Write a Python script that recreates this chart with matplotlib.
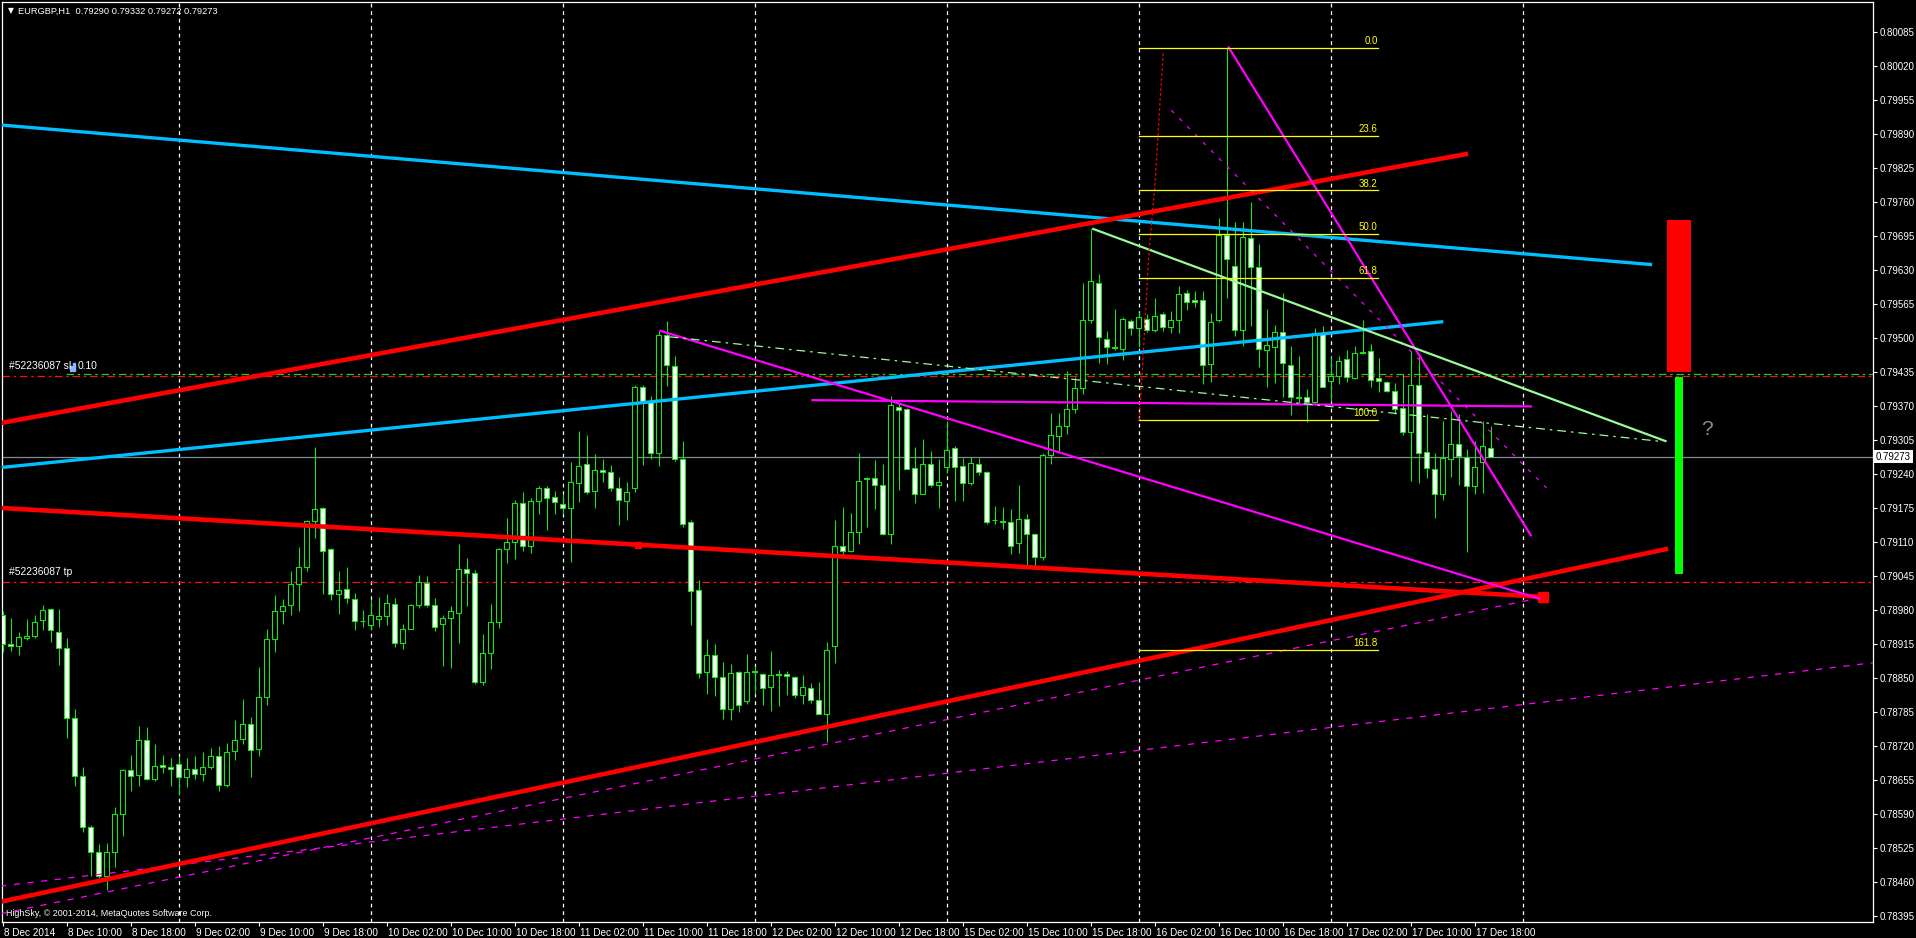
import matplotlib
matplotlib.use('Agg')
import matplotlib.pyplot as plt
import matplotlib.transforms as mtrans
from matplotlib.patches import Rectangle

W, H = 1916, 938
plt.rcParams['font.family'] = ['Liberation Sans', 'DejaVu Sans']

# ── 1. EURGBP H1 candles (8 Dec 02:00 ... 17 Dec 20:00) ────────────────────
opens = [0.78971, 0.78914, 0.78912, 0.78926, 0.78930, 0.78960, 0.78982, 0.78938, 0.78907, 0.78774,
         0.78662, 0.78565, 0.78518, 0.78471, 0.78518, 0.78590, 0.78674, 0.78664, 0.78732, 0.78657,
         0.78683, 0.78679, 0.78685, 0.78661, 0.78676, 0.78667, 0.78679, 0.78700, 0.78646, 0.78710,
         0.78734, 0.78762, 0.78715, 0.78814, 0.78925, 0.78978, 0.78990, 0.79029, 0.79062, 0.79150,
         0.79175, 0.79096, 0.79010, 0.79020, 0.79001, 0.78958, 0.78952, 0.78963, 0.78968, 0.78992,
         0.78917, 0.78943, 0.78990, 0.79032, 0.78990, 0.78954, 0.78965, 0.78975, 0.79059, 0.79050,
         0.78842, 0.78897, 0.78956, 0.79097, 0.79109, 0.79185, 0.79103, 0.79189, 0.79214, 0.79195,
         0.79182, 0.79174, 0.79222, 0.79258, 0.79208, 0.79248, 0.79243, 0.79214, 0.79189, 0.79214,
         0.79407, 0.79378, 0.79279, 0.79505, 0.79447, 0.79268, 0.79149, 0.79019, 0.78862, 0.78893,
         0.78852, 0.78790, 0.78862, 0.78805, 0.78862, 0.78858, 0.78832, 0.78856, 0.78858, 0.78852,
         0.78817, 0.78830, 0.78807, 0.78782, 0.78912, 0.79103, 0.79092, 0.79128, 0.79231, 0.79233,
         0.79219, 0.79125, 0.79368, 0.79365, 0.79252, 0.79202, 0.79258, 0.79219, 0.79254, 0.79290,
         0.79256, 0.79223, 0.79258, 0.79244, 0.79151, 0.79148, 0.79149, 0.79108, 0.79154, 0.79126,
         0.79082, 0.79276, 0.79313, 0.79332, 0.79365, 0.79404, 0.79535, 0.79605, 0.79498, 0.79483,
         0.79479, 0.79533, 0.79519, 0.79537, 0.79515, 0.79546, 0.79521, 0.79534, 0.79585, 0.79573,
         0.79573, 0.79450, 0.79534, 0.79696, 0.79637, 0.79515, 0.79691, 0.79635, 0.79476, 0.79482,
         0.79512, 0.79449, 0.79385, 0.79387, 0.79377, 0.79510, 0.79418, 0.79428, 0.79459, 0.79423,
         0.79471, 0.79474, 0.79423, 0.79416, 0.79398, 0.79366, 0.79321, 0.79409, 0.79281, 0.79250,
         0.79202, 0.79269, 0.79298, 0.79273, 0.79216, 0.79262, 0.79290]
highs = [0.78977, 0.78964, 0.78938, 0.78962, 0.78971, 0.78990, 0.78983, 0.78982, 0.78926, 0.78790,
         0.78680, 0.78568, 0.78532, 0.78535, 0.78604, 0.78675, 0.78702, 0.78759, 0.78757, 0.78723,
         0.78702, 0.78697, 0.78700, 0.78697, 0.78700, 0.78708, 0.78716, 0.78719, 0.78725, 0.78770,
         0.78809, 0.78776, 0.78871, 0.78943, 0.79008, 0.79000, 0.79054, 0.79101, 0.79151, 0.79292,
         0.79176, 0.79099, 0.79054, 0.79062, 0.79013, 0.78980, 0.79000, 0.79004, 0.79011, 0.79002,
         0.78953, 0.78991, 0.79046, 0.79045, 0.79002, 0.78970, 0.78987, 0.79106, 0.79079, 0.79056,
         0.78934, 0.78992, 0.79099, 0.79155, 0.79190, 0.79205, 0.79193, 0.79217, 0.79217, 0.79207,
         0.79201, 0.79262, 0.79322, 0.79314, 0.79278, 0.79268, 0.79257, 0.79234, 0.79224, 0.79410,
         0.79410, 0.79389, 0.79514, 0.79532, 0.79465, 0.79303, 0.79152, 0.79037, 0.78924, 0.78915,
         0.78881, 0.78876, 0.78863, 0.78895, 0.78872, 0.78860, 0.78902, 0.78865, 0.78864, 0.78853,
         0.78855, 0.78840, 0.78843, 0.78919, 0.79151, 0.79177, 0.79166, 0.79279, 0.79234, 0.79266,
         0.79258, 0.79388, 0.79375, 0.79366, 0.79291, 0.79306, 0.79283, 0.79268, 0.79342, 0.79294,
         0.79271, 0.79273, 0.79271, 0.79246, 0.79179, 0.79176, 0.79173, 0.79218, 0.79163, 0.79127,
         0.79279, 0.79356, 0.79356, 0.79436, 0.79425, 0.79604, 0.79709, 0.79623, 0.79514, 0.79556,
         0.79539, 0.79537, 0.79549, 0.79546, 0.79577, 0.79549, 0.79551, 0.79600, 0.79592, 0.79590,
         0.79590, 0.79547, 0.79729, 0.80055, 0.79721, 0.79721, 0.79759, 0.79679, 0.79555, 0.79525,
         0.79585, 0.79484, 0.79465, 0.79402, 0.79519, 0.79523, 0.79465, 0.79466, 0.79476, 0.79484,
         0.79534, 0.79488, 0.79462, 0.79417, 0.79413, 0.79431, 0.79474, 0.79466, 0.79355, 0.79280,
         0.79341, 0.79361, 0.79355, 0.79288, 0.79303, 0.79342, 0.79332]
lows = [0.78899, 0.78901, 0.78894, 0.78923, 0.78927, 0.78941, 0.78918, 0.78875, 0.78736, 0.78644,
        0.78556, 0.78471, 0.78468, 0.78445, 0.78489, 0.78547, 0.78633, 0.78644, 0.78654, 0.78653,
        0.78669, 0.78644, 0.78626, 0.78641, 0.78657, 0.78653, 0.78675, 0.78633, 0.78641, 0.78693,
        0.78723, 0.78661, 0.78701, 0.78799, 0.78900, 0.78953, 0.78971, 0.78977, 0.79054, 0.79117,
        0.79010, 0.78999, 0.78973, 0.78993, 0.78941, 0.78948, 0.78941, 0.78948, 0.78951, 0.78909,
        0.78905, 0.78943, 0.78984, 0.78986, 0.78940, 0.78872, 0.78869, 0.78916, 0.78988, 0.78839,
        0.78836, 0.78867, 0.78946, 0.79070, 0.79077, 0.79093, 0.79089, 0.79164, 0.79132, 0.79163,
        0.79164, 0.79072, 0.79187, 0.79201, 0.79175, 0.79225, 0.79208, 0.79142, 0.79152, 0.79206,
        0.79257, 0.79268, 0.79255, 0.79408, 0.79265, 0.79139, 0.78952, 0.78850, 0.78820, 0.78816,
        0.78772, 0.78770, 0.78784, 0.78800, 0.78820, 0.78799, 0.78786, 0.78796, 0.78817, 0.78812,
        0.78801, 0.78802, 0.78781, 0.78728, 0.78879, 0.79085, 0.79090, 0.79106, 0.79139, 0.79173,
        0.79123, 0.79106, 0.79210, 0.79249, 0.79184, 0.79201, 0.79215, 0.79175, 0.79241, 0.79188,
        0.79188, 0.79218, 0.79238, 0.79144, 0.79144, 0.79134, 0.79086, 0.79088, 0.79065, 0.79063,
        0.79075, 0.79258, 0.79284, 0.79317, 0.79357, 0.79392, 0.79529, 0.79452, 0.79450, 0.79477,
        0.79457, 0.79505, 0.79482, 0.79512, 0.79512, 0.79513, 0.79510, 0.79510, 0.79554, 0.79559,
        0.79411, 0.79416, 0.79530, 0.79577, 0.79503, 0.79484, 0.79522, 0.79445, 0.79406, 0.79413,
        0.79387, 0.79353, 0.79375, 0.79339, 0.79376, 0.79406, 0.79380, 0.79411, 0.79416, 0.79422,
        0.79469, 0.79406, 0.79396, 0.79397, 0.79355, 0.79314, 0.79227, 0.79223, 0.79233, 0.79155,
        0.79191, 0.79235, 0.79218, 0.79090, 0.79201, 0.79203, 0.79272]
closes = [0.78915, 0.78911, 0.78928, 0.78930, 0.78956, 0.78980, 0.78941, 0.78907, 0.78774, 0.78662,
          0.78565, 0.78518, 0.78471, 0.78518, 0.78590, 0.78674, 0.78662, 0.78732, 0.78657, 0.78682,
          0.78679, 0.78676, 0.78661, 0.78676, 0.78666, 0.78679, 0.78700, 0.78646, 0.78708, 0.78732,
          0.78762, 0.78712, 0.78814, 0.78924, 0.78978, 0.78988, 0.79029, 0.79062, 0.79150, 0.79173,
          0.79093, 0.79010, 0.79018, 0.79003, 0.78958, 0.78958, 0.78971, 0.78969, 0.78994, 0.78916,
          0.78943, 0.78990, 0.79034, 0.78990, 0.78948, 0.78965, 0.78977, 0.79059, 0.79050, 0.78842,
          0.78897, 0.78956, 0.79097, 0.79109, 0.79185, 0.79103, 0.79189, 0.79214, 0.79193, 0.79187,
          0.79174, 0.79224, 0.79256, 0.79206, 0.79248, 0.79243, 0.79214, 0.79191, 0.79206, 0.79407,
          0.79378, 0.79279, 0.79505, 0.79449, 0.79268, 0.79145, 0.79016, 0.78860, 0.78893, 0.78852,
          0.78790, 0.78860, 0.78799, 0.78862, 0.78862, 0.78830, 0.78855, 0.78856, 0.78853, 0.78817,
          0.78832, 0.78807, 0.78782, 0.78904, 0.79103, 0.79093, 0.79128, 0.79227, 0.79231, 0.79219,
          0.79125, 0.79371, 0.79363, 0.79250, 0.79202, 0.79258, 0.79218, 0.79225, 0.79285, 0.79254,
          0.79223, 0.79260, 0.79243, 0.79149, 0.79151, 0.79148, 0.79102, 0.79154, 0.79125, 0.79082,
          0.79276, 0.79315, 0.79332, 0.79365, 0.79404, 0.79535, 0.79608, 0.79501, 0.79483, 0.79480,
          0.79537, 0.79519, 0.79540, 0.79515, 0.79542, 0.79521, 0.79534, 0.79583, 0.79568, 0.79568,
          0.79448, 0.79531, 0.79697, 0.79650, 0.79515, 0.79693, 0.79635, 0.79479, 0.79486, 0.79512,
          0.79452, 0.79387, 0.79385, 0.79377, 0.79510, 0.79407, 0.79428, 0.79455, 0.79426, 0.79471,
          0.79471, 0.79420, 0.79417, 0.79398, 0.79364, 0.79321, 0.79409, 0.79280, 0.79252, 0.79201,
          0.79271, 0.79297, 0.79275, 0.79216, 0.79254, 0.79293, 0.79273]

x_tick_labels = ["8 Dec 2014", "8 Dec 10:00", "8 Dec 18:00", "9 Dec 02:00", "9 Dec 10:00", "9 Dec 18:00",
                 "10 Dec 02:00", "10 Dec 10:00", "10 Dec 18:00", "11 Dec 02:00", "11 Dec 10:00",
                 "11 Dec 18:00", "12 Dec 02:00", "12 Dec 10:00", "12 Dec 18:00", "15 Dec 02:00",
                 "15 Dec 10:00", "15 Dec 18:00", "16 Dec 02:00", "16 Dec 10:00", "16 Dec 18:00",
                 "17 Dec 02:00", "17 Dec 10:00", "17 Dec 18:00"]
day_start_bars = [22, 46, 70, 94, 118, 142, 166, 190]
y_tick_labels = ['0.80085', '0.80020', '0.79955', '0.79890', '0.79825', '0.79760', '0.79695',
                 '0.79630', '0.79565', '0.79500', '0.79435', '0.79370', '0.79305', '0.79240',
                 '0.79175', '0.79110', '0.79045', '0.78980', '0.78915', '0.78850', '0.78785',
                 '0.78720', '0.78655', '0.78590', '0.78525', '0.78460', '0.78395']

# ── 2. drawn objects: (bar, price) anchors ─────────────────────────────────
red_upper = [(-0.3, 0.79337), (183.2, 0.79852)]
red_lower_down = [(-0.3, 0.79175), (192.5, 0.79005)]
red_lower_up = [(-0.3, 0.78422), (208.2, 0.79097)]
blue_down = [(-0.3, 0.79907), (206.2, 0.79640)]
blue_up = [(-0.3, 0.79252), (180.1, 0.79531)]
magenta_down = [(82.1, 0.79514), (192.2, 0.79001)]
magenta_flat = [(101.1, 0.79381), (191.2, 0.79369)]
magenta_steep = [(153.2, 0.80057), (191.1, 0.79121)]
magenta_dash_steep = [(146.1, 0.79935), (193.0, 0.79213)]
magenta_dash_low1 = [(-0.3, 0.78399), (192.8, 0.79005)]
magenta_dash_low2 = [(-0.3, 0.78452), (233.8, 0.78879)]
pale_solid = [(136.2, 0.79709), (208.0, 0.79302)]
pale_dash = [(83.4, 0.79502), (207.4, 0.79302)]
red_dotted_bars = [142.1, 142.6, 143.3, 144.1, 144.7, 145.1]
red_dotted_prices = [0.79343, 0.79471, 0.79662, 0.79802, 0.79955, 0.80047]
red_line_mid = (79.4, 0.79104)

fib_start, fib_end = 142.1, 171.9
fib_high, fib_low = 0.80054, 0.79343
fib_ratios = [0.0, 23.6, 38.2, 50.0, 61.8, 100.0, 161.8]

order_open = 0.79431
order_sl = 0.79427
order_tp = 0.79033
risk_box = (208.0, 211.1, 0.79434, 0.79726)
reward_box = (209.1, 210.1, 0.79049, 0.79425)

GREEN = '#1EE01E'

# ── 3. figure ──────────────────────────────────────────────────────────────
fig = plt.figure(figsize=(W / 100, H / 100), dpi=100)
fig.patch.set_facecolor('black')
ax = fig.add_axes([2 / W, (H - 922) / H, (1873 - 2) / W, (922 - 2) / H])
ax.set_facecolor('black')
ax.set_xlim(-0.0625, 233.81)
ax.set_ylim(0.783835, 0.80142)

for sp in ax.spines.values():
    sp.set_color('white')
    sp.set_linewidth(0.9)

# day separators
for b in day_start_bars:
    ax.axvline(b, color='white', lw=0.9, ls=(0, (3, 3)), zorder=1)

# horizontal order lines
dashdot = (0, (6, 3, 2, 3))
ax.axhline(order_open, color='#22CC22', lw=0.9, ls=dashdot, zorder=2, xmin=0.034)
ax.axhline(order_sl, color='#FF1010', lw=0.9, ls=dashdot, zorder=2)
ax.axhline(order_tp, color='#FF1010', lw=0.9, ls=dashdot, zorder=2)
ax.axhline(closes[-1], color='#7F8A96', lw=0.9, zorder=2)

# candles
idx = list(range(len(opens)))
ax.vlines(idx, lows, highs, colors=GREEN, lw=0.8, zorder=3)
bottoms = [min(o, c) for o, c in zip(opens, closes)]
heights = [max(abs(c - o), 0.000012) for o, c in zip(opens, closes)]
fills = ['black' if c > o else 'white' for o, c in zip(opens, closes)]
ax.bar(idx, heights, bottom=bottoms, width=0.62, color=fills, edgecolor=GREEN,
       linewidth=0.8, zorder=4)


def seg(pts, **kw):
    ax.plot([p[0] for p in pts], [p[1] for p in pts], solid_capstyle='butt', **kw)


seg(blue_down, color='#00BFFF', lw=2.4, zorder=6)
seg(blue_up, color='#00BFFF', lw=2.4, zorder=6)
seg(red_upper, color='#FF0000', lw=3.3, zorder=6)
seg(red_lower_down, color='#FF0000', lw=3.3, zorder=6)
seg(red_lower_up, color='#FF0000', lw=3.3, zorder=6)
ax.plot([red_line_mid[0]], [red_line_mid[1]], 's', color='#FF0000', ms=5, zorder=6)
ax.plot([red_lower_down[1][0]], [red_lower_down[1][1]], 's', color='#FF0000', ms=6.5, zorder=6)

seg(magenta_down, color='#FF00FF', lw=1.6, zorder=7)
seg(magenta_flat, color='#FF00FF', lw=1.6, zorder=7)
seg(magenta_steep, color='#FF00FF', lw=1.6, zorder=7)
seg(magenta_dash_steep, color='#FF00FF', lw=0.9, ls=(0, (3, 6)), zorder=7)
seg(magenta_dash_low1, color='#FF00FF', lw=0.9, ls=(0, (5, 6)), zorder=5)
seg(magenta_dash_low2, color='#FF00FF', lw=0.9, ls=(0, (5, 6)), zorder=5)
seg(pale_solid, color='#98FB98', lw=1.6, zorder=7)
seg(pale_dash, color='#98FB98', lw=0.9, ls=(0, (7, 4, 2, 4)), zorder=7)
ax.plot(red_dotted_bars, red_dotted_prices, color='#FF0000', lw=0.9, ls=(0, (2, 2)), zorder=7)

# fibonacci retracement
for r in fib_ratios:
    lvl = fib_high - r / 100 * (fib_high - fib_low)
    ax.plot([fib_start, fib_end], [lvl, lvl], color='#FFFF00', lw=0.9, zorder=7)
    ax.text(fib_end, lvl + 0.00003, f"{r:.1f}", color='#FFFF00', fontsize=7,
            ha='right', va='bottom', zorder=8)

# risk / reward blocks
ax.add_patch(Rectangle((risk_box[0], risk_box[2]), risk_box[1] - risk_box[0],
                       risk_box[3] - risk_box[2], color='#FF0000', lw=0, zorder=8))
ax.add_patch(Rectangle((reward_box[0], reward_box[2]), reward_box[1] - reward_box[0],
                       reward_box[3] - reward_box[2], color='#00FF00', lw=0, zorder=8))
ax.text(213.0, 0.79324, '?', color='#8C8C8C', fontsize=15, ha='center', va='center', zorder=8)

# ── 4. axes ────────────────────────────────────────────────────────────────
ax.yaxis.tick_right()
ax.set_yticks([float(s) for s in y_tick_labels])
ax.set_yticklabels(y_tick_labels)
ax.tick_params(axis='y', colors='white', labelcolor='white', length=3, width=0.8,
               pad=2, labelsize=7)
ax.set_xticks(list(range(0, len(opens), 8)))
ax.set_xticklabels(x_tick_labels)
ax.tick_params(axis='x', colors='white', labelcolor='white', length=3, width=0.8,
               pad=1, labelsize=7.2)
shift = mtrans.ScaledTranslation(1.5 / 100, 0, fig.dpi_scale_trans)
for lbl in ax.get_xticklabels():
    lbl.set_ha('left')
    lbl.set_transform(lbl.get_transform() + shift)

price_tr = mtrans.blended_transform_factory(ax.transAxes, ax.transData)
ax.text(1.0 + 3 / 1871, closes[-1], f"{closes[-1]:.5f}", transform=price_tr, color='black',
        fontsize=7, ha='left', va='center', zorder=10, clip_on=False,
        bbox=dict(facecolor='white', edgecolor='none', pad=1.2))

# ── 5. texts ───────────────────────────────────────────────────────────────
def ftext(px, py, s, **kw):
    fig.text(px / W, 1 - py / H, s, **kw)


ftext(8, 11, "\u25bc", color='white', fontsize=5.5, va='center', family=['DejaVu Sans'])
ftext(18, 11, f"EURGBP,H1  {opens[-1]:.5f} {highs[-1]:.5f} {lows[-1]:.5f} {closes[-1]:.5f}",
      color='white', fontsize=6.7, va='center')
ftext(9, 371, "#52236087 sl", color='white', fontsize=7.4, va='bottom')
fig.patches.append(Rectangle((70 / W, 1 - 371 / H), 1.5 / W, 5 / H, transform=fig.transFigure,
                             color='#8AB4FF', figure=fig))
fig.patches.append(Rectangle((73 / W, 1 - 371 / H), 1.5 / W, 8 / H, transform=fig.transFigure,
                             color='#8AB4FF', figure=fig))
ftext(78, 371, "0.10", color='white', fontsize=7.4, va='bottom')
ftext(9, 577, "#52236087 tp", color='white', fontsize=7.4, va='bottom')
ftext(6, 913, "HighSky, \u00a9 2001-2014, MetaQuotes Software Corp.", color='white',
      fontsize=6.4, va='center')

fig.savefig('out.png', dpi=100, facecolor='black')
